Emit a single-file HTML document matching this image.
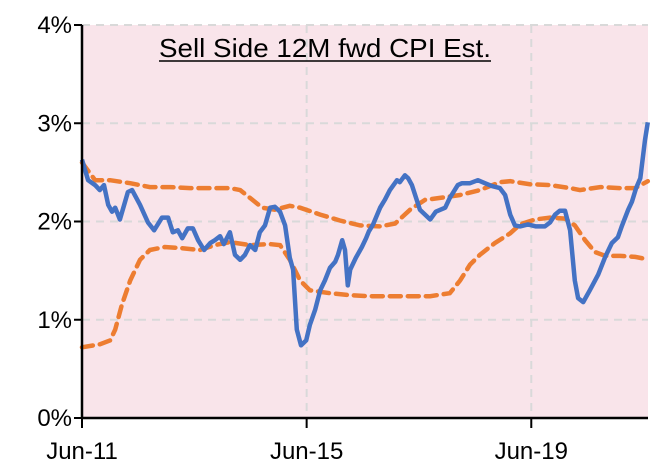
<!DOCTYPE html>
<html><head><meta charset="utf-8"><style>
html,body{margin:0;padding:0;background:#fff;}
svg text{font-family:"Liberation Sans",Arial,sans-serif;}
</style></head><body>
<svg id="chart" width="668" height="467" viewBox="0 0 668 467" xmlns="http://www.w3.org/2000/svg">
<rect x="82" y="25" width="566" height="393" fill="#f9e4ea"/>
<g id="grid"></g>
<g id="series"></g>
<g id="axes"></g>
<text x="325" y="57" font-size="26" text-anchor="middle" textLength="332" lengthAdjust="spacingAndGlyphs" fill="#000">Sell Side 12M fwd CPI Est.</text>
<line x1="159" y1="61" x2="491" y2="61" stroke="#000" stroke-width="1.5"/>
</svg>
<script>
// months since Jun-11
const blueMonths=[0,1.3,2.8,3.8,4.7,5.6,6.4,7.1,8.1,9.8,10.7,12.4,14.1,15.4,17.1,18.4,19.4,20.5,21.4,22.6,23.7,24.8,26.1,27.4,28.4,29.5,30.3,31.6,32.7,33.8,34.8,35.9,37,38,39.1,40.2,41.2,42.3,43.4,44.4,45.1,45.9,46.8,47.9,48.7,49.8,50.9,51.9,53,54.1,54.7,55.6,56.2,56.8,57.3,58.5,59.8,60.7,61.3,62.2,63.7,64.7,65.8,67.3,67.9,69,69.7,70.5,72.2,74.4,75.6,77.6,78.6,80.3,81.2,82.9,84.6,86.1,87.6,89.3,90.4,91.5,92.5,93.6,95.3,97,98.9,100,101.1,102.1,103.2,104.3,105.3,106,107.1,108.5,110.3,111.8,113.2,114.5,115.4,116.7,117.5,118.4,119.3,120.3,120.9];
const blueValues=[2.63,2.42,2.37,2.32,2.37,2.17,2.10,2.14,2.02,2.30,2.32,2.17,1.99,1.91,2.04,2.04,1.89,1.91,1.83,1.93,1.93,1.81,1.71,1.78,1.81,1.85,1.77,1.89,1.66,1.61,1.66,1.76,1.71,1.89,1.96,2.14,2.15,2.10,1.96,1.63,1.51,0.90,0.74,0.79,0.95,1.10,1.30,1.40,1.53,1.59,1.66,1.81,1.71,1.35,1.51,1.63,1.74,1.83,1.90,1.97,2.14,2.22,2.32,2.42,2.40,2.47,2.44,2.37,2.12,2.02,2.10,2.14,2.24,2.37,2.39,2.39,2.42,2.39,2.36,2.34,2.27,2.07,1.96,1.95,1.97,1.95,1.95,1.99,2.07,2.11,2.11,1.91,1.40,1.22,1.18,1.30,1.46,1.64,1.78,1.84,1.96,2.12,2.20,2.34,2.44,2.83,3.01];
const upperMonths=[0,2.8,6,10.3,14.5,18.8,23.1,27.4,31.6,33.8,35.9,38.5,41.2,44.4,46.6,50.9,55.1,59.4,63.7,66.9,70.1,73.3,76.5,80.8,85,89.3,91.5,95.7,100,104.3,106.4,110.7,115,118.2,120.9];
const upperValues=[2.60,2.42,2.42,2.39,2.35,2.35,2.34,2.34,2.34,2.32,2.24,2.14,2.12,2.16,2.14,2.07,2.01,1.96,1.95,1.98,2.12,2.22,2.24,2.27,2.32,2.40,2.41,2.38,2.37,2.34,2.32,2.35,2.34,2.34,2.41];
const lowerMonths=[0,3.8,6,7.1,8.5,10.3,12.4,14.5,17.7,20.9,25.2,28.4,31.6,35.9,40.2,42.3,44.4,46.6,48.7,53,57.3,61.5,67.9,74.4,78.6,80.8,82.9,85,88.2,91.5,93.6,96.8,100,103.2,105.3,107.5,109.6,111.8,115,118.2,120.3];
const lowerValues=[0.72,0.75,0.79,0.90,1.15,1.40,1.61,1.71,1.74,1.73,1.71,1.76,1.79,1.76,1.77,1.76,1.61,1.40,1.30,1.27,1.25,1.24,1.24,1.24,1.27,1.40,1.56,1.66,1.78,1.88,1.97,2.02,2.04,2.03,1.96,1.81,1.69,1.65,1.65,1.64,1.62];
const yTicks=[0,1,2,3,4];
const yTickLabels=["0%","1%","2%","3%","4%"];
const xTickMonths=[0,48,96];
const xTickLabels=["Jun-11","Jun-15","Jun-19"];

const X0=82,PX_PER_MONTH=4.68,Y0=418,PX_PER_PCT=98.25;
const xS=m=>X0+m*PX_PER_MONTH;
const yS=v=>Y0-v*PX_PER_PCT;
const NS="http://www.w3.org/2000/svg";
function mk(tag,parent){const e=document.createElementNS(NS,tag);parent.appendChild(e);return e;}
const grid=document.getElementById('grid'),axes=document.getElementById('axes'),series=document.getElementById('series');

yTicks.forEach((t,i)=>{
  if(t>0){
    const g=mk('line',grid);
    
    
    g.setAttribute('x1',X0);g.setAttribute('x2',648);g.setAttribute('y1',yS(t));g.setAttribute('y2',yS(t));
    g.setAttribute('stroke','#d9d9d9');g.setAttribute('stroke-width','2');g.setAttribute('stroke-dasharray','8,6');
  }
  const tk=mk('line',axes);
  
  
  tk.setAttribute('x1',74);tk.setAttribute('x2',X0);tk.setAttribute('y1',yS(t));tk.setAttribute('y2',yS(t));
  tk.setAttribute('stroke','#000');tk.setAttribute('stroke-width','2');
  const l=mk('text',axes);
  
  
  l.setAttribute('x',72);l.setAttribute('y',yS(t)+8);l.setAttribute('text-anchor','end');l.setAttribute('font-size','24');
  l.textContent=yTickLabels[i];
});
xTickMonths.forEach((m,i)=>{
  if(m>0){
    const g=mk('line',grid);
    
    
    g.setAttribute('x1',xS(m));g.setAttribute('x2',xS(m));g.setAttribute('y1',25);g.setAttribute('y2',Y0);
    g.setAttribute('stroke','#d9d9d9');g.setAttribute('stroke-width','2');g.setAttribute('stroke-dasharray','8,6');
  }
  const tk=mk('line',axes);
  
  
  tk.setAttribute('x1',xS(m));tk.setAttribute('x2',xS(m));tk.setAttribute('y1',Y0);tk.setAttribute('y2',428);
  tk.setAttribute('stroke','#000');tk.setAttribute('stroke-width','2');
  const l=mk('text',axes);
  
  
  l.setAttribute('x',xS(m));l.setAttribute('y',459);l.setAttribute('text-anchor','middle');l.setAttribute('font-size','24');
  l.textContent=xTickLabels[i];
});
const ya=mk('line',axes);


ya.setAttribute('x1',X0);ya.setAttribute('x2',X0);ya.setAttribute('y1',25);ya.setAttribute('y2',Y0);ya.setAttribute('stroke','#000');ya.setAttribute('stroke-width','2.5');
const xa=mk('line',axes);


xa.setAttribute('x1',X0);xa.setAttribute('x2',648);xa.setAttribute('y1',Y0);xa.setAttribute('y2',Y0);xa.setAttribute('stroke','#000');xa.setAttribute('stroke-width','2.5');

function pts(ms,vs){return ms.map((m,i)=>xS(m).toFixed(1)+','+yS(vs[i]).toFixed(1)).join(' ');}
const up=mk('polyline',series);


up.setAttribute('points',pts(upperMonths,upperValues));
up.setAttribute('fill','none');up.setAttribute('stroke','#ed7d31');up.setAttribute('stroke-width','4.5');up.setAttribute('stroke-dasharray','11,7');up.setAttribute('stroke-linecap','round');
const lo=mk('polyline',series);


lo.setAttribute('points',pts(lowerMonths,lowerValues));
lo.setAttribute('fill','none');lo.setAttribute('stroke','#ed7d31');lo.setAttribute('stroke-width','4.5');lo.setAttribute('stroke-dasharray','11,7');lo.setAttribute('stroke-linecap','round');
const bl=mk('polyline',series);


bl.setAttribute('points',pts(blueMonths,blueValues));
bl.setAttribute('fill','none');bl.setAttribute('stroke','#4472c4');bl.setAttribute('stroke-width','4.5');bl.setAttribute('stroke-linejoin','round');
</script>
</body></html>
